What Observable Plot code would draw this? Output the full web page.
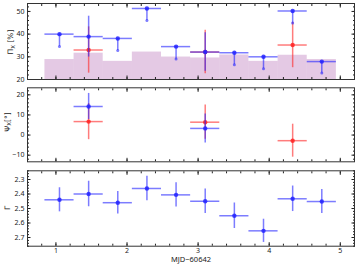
<!DOCTYPE html>
<html><head><meta charset="utf-8">
<script src="https://cdn.jsdelivr.net/npm/d3@7"></script>
<script src="https://cdn.jsdelivr.net/npm/@observablehq/plot@0.6"></script>
<style>
body{margin:0;background:#fff}
#c{position:relative;width:357px;height:266px;font-family:"DejaVu Sans",sans-serif}
#c svg{position:absolute;left:0;overflow:visible}
</style>
</head><body><div id="c"></div>
<script>
// ---- data ----
const binCenter = [1.05, 1.46, 1.87, 2.28, 2.69, 3.10, 3.51, 3.92, 4.33, 4.74];
const binHalf = 0.205;
const mdp = [28.8, 31.6, 28.0, 32.1, 29.9, 29.5, 30.8, 28.0, 30.7, 28.8];
const pdBlue = [40.0, 38.9, 38.1, 51.3, 34.5, 32.1, 31.8, 30.0, 50.2, 27.9];
const pdBlueErr = [null, 9.0, null, null, null, 8.5, null, null, null, null];
const pdBlueLimEnd = [34.6, null, 32.8, 46.0, 29.0, null, 26.5, 24.7, 44.9, 22.9];
const pdRedBins = [1, 5, 8];
const pdRed = [33.0, 32.1, 35.2];
const pdRedErr = [10.2, 9.6, 10.0];
const paBlueBins = [1, 5];
const paBlue = [14.2, 3.3];
const paBlueErr = [6.5, 7.2];
const paRedBins = [1, 5, 8];
const paRed = [6.7, 6.4, -2.8];
const paRedErr = [9.0, 8.5, 8.2];
const gamma = [2.44, 2.40, 2.46, 2.362, 2.406, 2.45, 2.55, 2.654, 2.433, 2.452];
const gammaErr = [0.083, 0.088, 0.078, 0.085, 0.083, 0.085, 0.088, 0.08, 0.088, 0.083];
const xTicks = [1, 2, 3, 4, 5];
const xDomain = [0.6, 5.2];
const pdTicks = [20, 30, 40, 50];
const paTicks = [-10, 0, 10, 20];
const gTicks = [2.3, 2.4, 2.5, 2.6, 2.7];
const xLabel = "MJD\u221260642";

const BLUE = "#2424ff", RED = "#ff2424", LW = 1.5, OP = 0.6;
const W = 357, ML = 27, MR = 3;
const xMinor = d3.range(0.6, 5.21, 0.2).map(v => +v.toFixed(2));

function frameAxes(yMajor, yMinor, withXLabels, yFmt) {
  const m = [];
  const common = {label: null, stroke: "#222"};
  for (const a of ["bottom", "top"]) {
    m.push(Plot.axisX({...common, anchor: a, ticks: xTicks, tickSize: -3.5, tickFormat: () => ""}));
    m.push(Plot.axisX({...common, anchor: a, ticks: xMinor, tickSize: -2, tickFormat: () => ""}));
  }
  for (const a of ["left", "right"]) {
    m.push(Plot.axisY({...common, anchor: a, ticks: yMajor, tickSize: -3.5, tickFormat: () => ""}));
    m.push(Plot.axisY({...common, anchor: a, ticks: yMinor, tickSize: -2, tickFormat: () => ""}));
  }
  m.push(Plot.axisY({label: null, anchor: "left", ticks: yMajor, tickSize: 0, tickPadding: 3, fontSize: 7, fill: "#222", tickFormat: yFmt || (d => String(d))}));
  if (withXLabels) {
    m.push(Plot.axisX({label: null, anchor: "bottom", ticks: xTicks, tickSize: 0, tickPadding: 1.5, fontSize: 7, fill: "#222", tickFormat: d => String(d)}));
  }
  m.push(Plot.frame({stroke: "#333", strokeWidth: 1}));
  return m;
}

function errMarks(xs, ys, es, color) {
  const d = xs.map((x, i) => ({x, y: ys[i], e: es[i]}));
  return [
    Plot.ruleY(d, {y: "y", x1: r => r.x - binHalf, x2: r => r.x + binHalf, stroke: color, strokeOpacity: OP, strokeWidth: LW}),
    Plot.ruleX(d.filter(r => r.e != null), {x: "x", y1: r => r.y - r.e, y2: r => r.y + r.e, stroke: color, strokeOpacity: OP, strokeWidth: LW}),
    Plot.dot(d, {x: "x", y: "y", r: 2.2, fill: color, fillOpacity: 0.85})
  ];
}

function place(svg, top) {
  svg.style.top = top + "px";
  document.getElementById("c").appendChild(svg);
  return svg;
}

function yLabel(svg, x, y, main, sub, rest) {
  const t = d3.select(svg).append("text")
    .attr("transform", `translate(${x},${y}) rotate(-90)`)
    .attr("text-anchor", "middle").attr("font-size", 7.5).attr("fill", "#222")
    .attr("font-family", "DejaVu Sans");
  t.append("tspan").text(main);
  if (sub) t.append("tspan").attr("font-size", 5.5).attr("dy", 1.8).text(sub);
  if (rest) t.append("tspan").attr("dy", sub ? -1.8 : 0).text(rest);
}

// ---- panel 1: PD ----
const pdDomain = [20, 53.5];
const bins = binCenter.map((c, i) => ({c, mdp: mdp[i]}));
const blueUL = binCenter.map((c, i) => ({x: c, y: pdBlue[i], end: pdBlueLimEnd[i]})).filter(r => r.end != null);
const p1 = Plot.plot({
  width: W, height: 82, marginLeft: ML, marginRight: MR, marginTop: 3, marginBottom: 3,
  x: {domain: xDomain}, y: {domain: pdDomain},
  marks: [
    Plot.rectY(bins, {x1: r => r.c - binHalf, x2: r => r.c + binHalf, y1: pdDomain[0], y2: "mdp", fill: "purple", fillOpacity: 0.21}),
    ...errMarks(pdRedBins.map(i => binCenter[i]), pdRed, pdRedErr, RED),
    ...errMarks(binCenter, pdBlue, pdBlueErr, BLUE),
    Plot.ruleX(blueUL, {x: "x", y1: "end", y2: "y", stroke: BLUE, strokeOpacity: OP, strokeWidth: LW}),
    Plot.dot(blueUL, {x: "x", y: "end", r: 1.5, fill: BLUE, fillOpacity: 0.6}),
    ...frameAxes(pdTicks, d3.range(20, 54, 2), false)
  ]
});
place(p1, 0);
yLabel(p1, 13, 42, "\u03A0", "X", " [%]");

// ---- panel 2: PA ----
const p2 = Plot.plot({
  width: W, height: 80, marginLeft: ML, marginRight: MR, marginTop: 3.3, marginBottom: 2.7,
  x: {domain: xDomain}, y: {domain: [-13.3, 23.5]},
  marks: [
    ...errMarks(paRedBins.map(i => binCenter[i]), paRed, paRedErr, RED),
    ...errMarks(paBlueBins.map(i => binCenter[i]), paBlue, paBlueErr, BLUE),
    ...frameAxes(paTicks, d3.range(-12, 24, 2), false, d => d < 0 ? "\u2212" + Math.abs(d) : String(d))
  ]
});
place(p2, 84);
yLabel(p2, 9.5, 38, "\u03A8", "X", "[\u00B0]");

// ---- panel 3: Gamma ----
const p3 = Plot.plot({
  width: W, height: 100, marginLeft: ML, marginRight: MR, marginTop: 4.3, marginBottom: 20.3,
  x: {domain: xDomain}, y: {domain: [2.24, 2.76], reverse: true},
  marks: [
    ...errMarks(binCenter, gamma, gammaErr, BLUE),
    Plot.text([xLabel], {text: d => d, frameAnchor: "bottom", dy: 13, lineAnchor: "middle", fontSize: 7.5, fill: "#222"}),
    ...frameAxes(gTicks, d3.range(2.24, 2.761, 0.02).map(v => +v.toFixed(2)), true, d3.format(".1f"))
  ]
});
place(p3, 166);
yLabel(p3, 9.5, 42, "\u0393");
</script></body></html>
